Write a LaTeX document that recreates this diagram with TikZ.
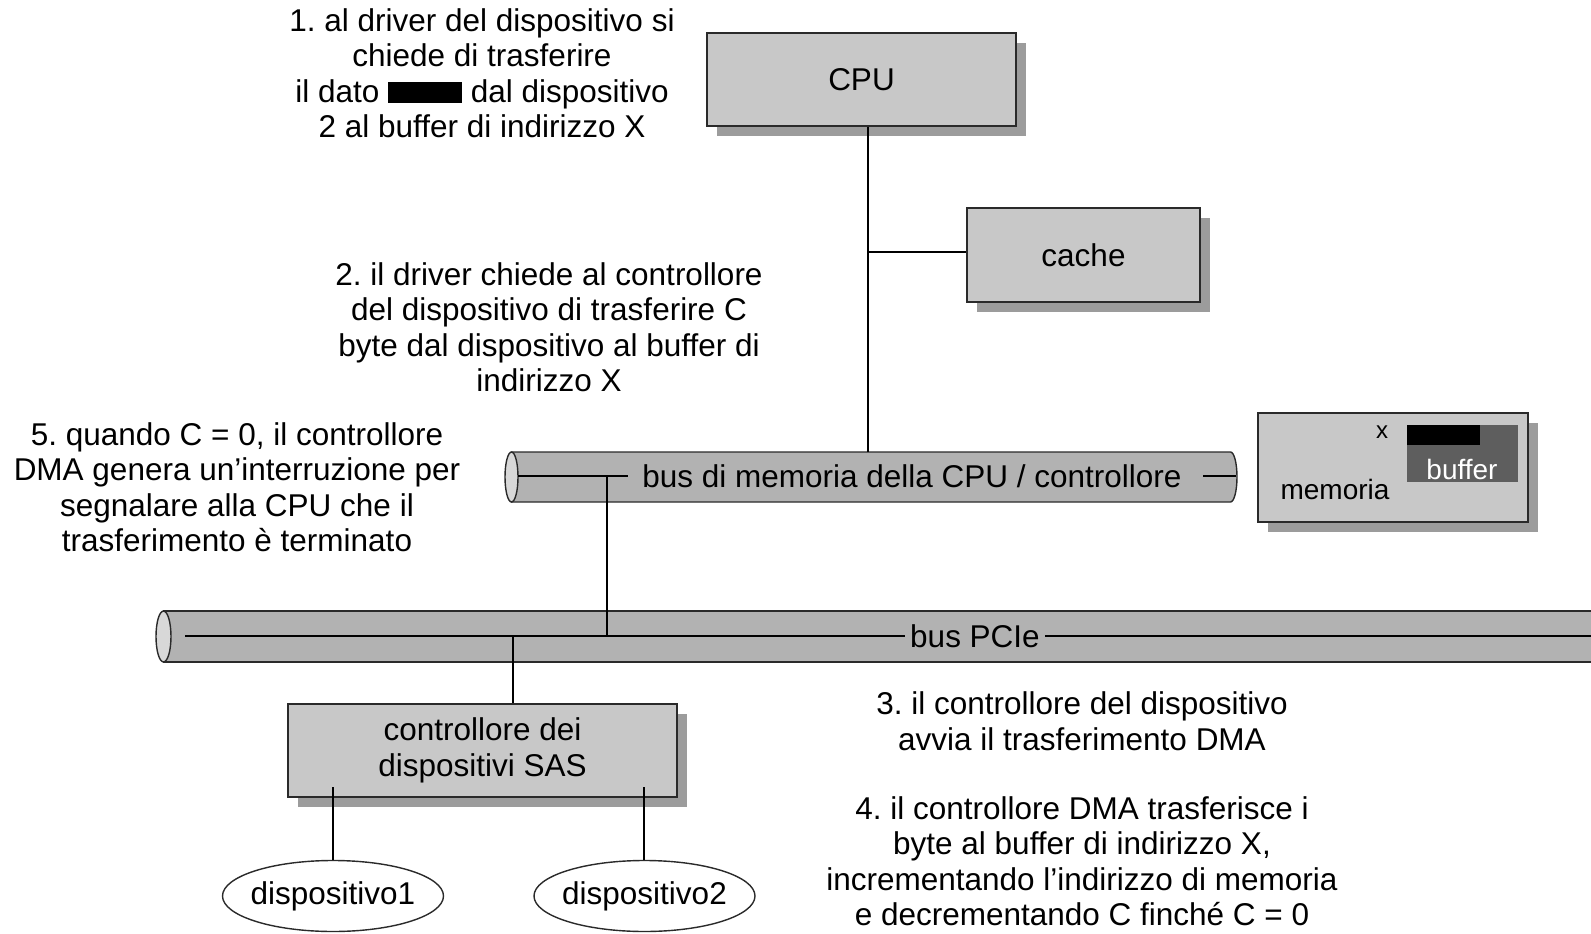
\documentclass[tikz,border=0pt]{standalone}
\usepackage{fontspec}
\setmainfont{Liberation Sans}
\usetikzlibrary{shapes.geometric,shadows}
\frenchspacing
\definecolor{boxgray}{HTML}{C8C8C8}
\definecolor{busgray}{HTML}{B2B2B2}
\definecolor{endgray}{HTML}{D8D8D8}
\definecolor{shadowgray}{HTML}{9C9C9C}
\definecolor{bufgray}{HTML}{5E5E5E}
\definecolor{edge}{HTML}{2A2A2A}
\tikzset{
  unit/.style={draw=edge, line width=1.6pt, fill=boxgray, inner sep=0pt,
    font=\fontsize{31.5}{35.5}\selectfont,
    drop shadow={shadow xshift=10pt, shadow yshift=-10pt, fill=shadowgray, opacity=1}},
  device/.style={ellipse, draw=edge, line width=1.4pt, fill=white, inner sep=0pt,
    minimum width=221pt, minimum height=71pt, font=\fontsize{31.5}{35.5}\selectfont},
  note/.style={align=center, inner sep=0pt, font=\fontsize{31.5}{35.5}\selectfont},
  link/.style={draw=black, line width=1.3pt},
  buslabel/.style={inner sep=0pt, font=\fontsize{31.5}{35.5}\selectfont},
  busbody/.style={draw=edge, line width=1.4pt, fill=busgray},
  busend/.style={draw=edge, line width=1.4pt, fill=endgray},
}
\begin{document}
\begin{tikzpicture}[x=1pt,y=-1pt]
\useasboundingbox (0,0) rectangle (1591,934);

% ---- processor and cache ----
\node[unit, minimum width=309pt, minimum height=93pt] (cpu) at (861.5,79.5) {CPU};
\node[unit, minimum width=233pt, minimum height=94pt] (cache) at (1083.5,255) {cache};

% ---- memory bus (cylinder) ----
\path[busbody] (511.5,452) -- (1230.5,452)
  arc[start angle=90, end angle=-90, x radius=6.5pt, y radius=25pt]
  -- (511.5,502) -- cycle;
\path[busend] (511.5,477) ellipse [x radius=6.5pt, y radius=25pt];
\node[buslabel] (membus) at (912,476) {bus di memoria della CPU / controllore};
\coordinate (mbl) at (518,476);
\coordinate (mbr) at (1236,476);
\draw[link] (mbl) -- (628,476);
\draw[link] (1203,476) -- (mbr);

% ---- main memory ----
\node[unit, minimum width=270pt, minimum height=109pt] (mem) at (1393,467.5) {};
\fill[bufgray] (1407,425) rectangle (1518,482);
\fill[black] (1407,425) rectangle (1480,445);
\node[inner sep=0pt, font=\fontsize{24}{28}\selectfont] (xlab) at (1382,432) {x};
\node[inner sep=0pt, text=white, font=\fontsize{28}{32}\selectfont] (buf) at (1462,469) {buffer};
\node[inner sep=0pt, font=\fontsize{28}{32}\selectfont] (memlab) at (1335,489) {memoria};

% ---- PCIe bus (cylinder, running off the right edge) ----
\path[busbody] (163.5,611) -- (1620,611) -- (1620,662) -- (163.5,662) -- cycle;
\path[busend] (163.5,636.5) ellipse [x radius=7.5pt, y radius=25.5pt];
\node[buslabel] (pcie) at (975,636) {bus PCIe};
\coordinate (pbl) at (185,636);
\coordinate (pbr) at (1620,636);
\draw[link] (pbl) -- (905,636);
\draw[link] (1045,636) -- (pbr);

% ---- device controller and devices ----
\node[unit, minimum width=389pt, minimum height=93pt, align=center] (ctrl) at (482.5,750.5)
      {controllore dei\\dispositivi SAS};
\node[device] (d1) at (333,896) {\makebox[140pt]{dispositivo1}};
\node[device] (d2) at (644.5,896) {\makebox[140pt]{dispositivo2}};

% ---- connectors ----
\coordinate (cpujoin) at (868,452);
\coordinate (cachejoin) at (868,252);
\draw[link] (cpu.south -| cpujoin) -- (cpujoin);
\draw[link] (cachejoin) -- (cache.west |- cachejoin);
\coordinate (mtop) at (607,476);
\coordinate (pjoin) at (607,636);
\draw[link] (mtop) -- (pjoin);
\coordinate (ptop) at (513,636);
\draw[link] (ptop) -- (ctrl.north -| ptop);
\coordinate (c1) at (333,787);
\coordinate (c2) at (644,787);
\draw[link] (c1) -- (d1.north);
\draw[link] (c2) -- (d2.north -| c2);

% ---- step descriptions ----
\node[note] (s1) at (482,73)
  {1. al driver del dispositivo si\\chiede di trasferire\\
   il dato \rule[-1pt]{74pt}{21pt} dal dispositivo\\2 al buffer di indirizzo X};
\node[note] (s2) at (549,327)
  {2. il driver chiede al controllore\\del dispositivo di trasferire C\\
   byte dal dispositivo al buffer di\\indirizzo X};
\node[note] (s5) at (237,487)
  {5. quando C = 0, il controllore\\DMA genera un’interruzione per\\
   segnalare alla CPU che il\\trasferimento è terminato};
\node[note] (s3) at (1082,721)
  {3. il controllore del dispositivo\\avvia il trasferimento DMA};
\node[note] (s4) at (1082,861)
  {4. il controllore DMA trasferisce i\\byte al buffer di indirizzo X,\\
   incrementando l’indirizzo di memoria\\e decrementando C finché C = 0};
\end{tikzpicture}
\end{document}
